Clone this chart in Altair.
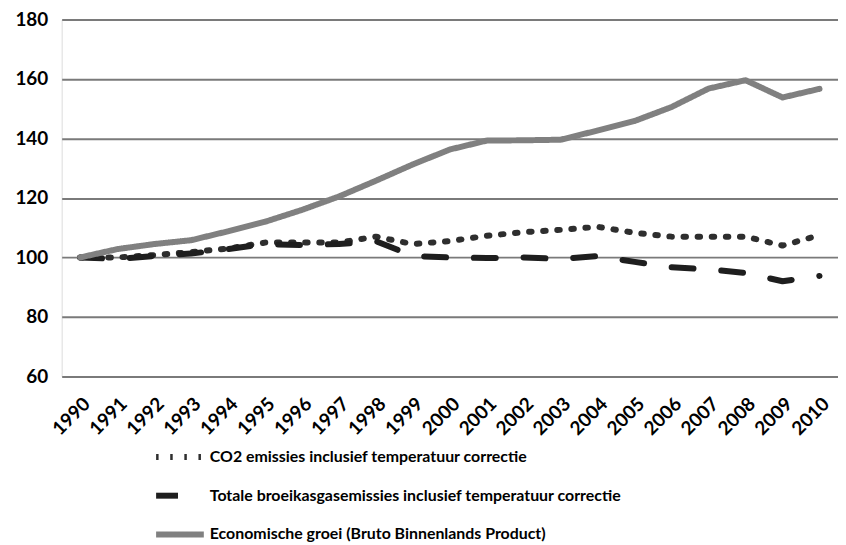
import altair as alt
import pandas as pd

years = [str(y) for y in range(1990, 2011)]

series_names = [
    "CO2 emissies inclusief temperatuur correctie",
    "Totale broeikasgasemissies inclusief temperatuur correctie",
    "Economische groei (Bruto Binnenlands Product)",
]

co2 = [100, 100, 100.8, 101.8, 103, 105, 105, 105, 107, 104.5, 105.5,
       107.3, 108.5, 109.3, 110.3, 108.3, 107, 107, 107, 104, 107.5]
totaal = [100, 99.5, 100.5, 101.3, 102.8, 104.5, 104.2, 104.5, 105.5, 100.5, 100,
          99.8, 100, 99.5, 100.5, 98.5, 96.7, 96, 94.8, 92, 93.8]
bbp = [100, 102.8, 104.5, 105.8, 108.8, 112, 116, 120.5, 125.8, 131.3, 136.3,
       139.3, 139.4, 139.6, 142.7, 145.9, 150.6, 156.8, 159.6, 153.8, 156.7]

y_ticks = [60, 80, 100, 120, 140, 160, 180]

rows = []
for name, vals in zip(series_names, [co2, totaal, bbp]):
    for y, v in zip(years, vals):
        rows.append({"jaar": y, "waarde": v, "reeks": name})
df = pd.DataFrame(rows)

FONT = "Lato, sans-serif"

chart = alt.Chart(df).mark_line(strokeWidth=6, strokeCap="round", strokeJoin="round").encode(
    x=alt.X("jaar:O", title=None, sort=years,
            scale=alt.Scale(type="point", padding=0.5),
            axis=alt.Axis(labelAngle=-45, domain=False, ticks=False, labelPadding=18,
                          labelFont=FONT, labelFontSize=19, labelFontWeight="bold",
                          labelColor="#000000", grid=False)),
    y=alt.Y("waarde:Q", title=None,
            scale=alt.Scale(domain=[60, 180], nice=False, zero=False),
            axis=alt.Axis(values=y_ticks, domain=False, ticks=False, labelPadding=14,
                          labelFont=FONT, labelFontSize=19, labelFontWeight="bold",
                          labelColor="#000000", grid=True, gridColor="#7a7a7a",
                          gridWidth=2)),
    color=alt.Color("reeks:N", sort=series_names,
                    scale=alt.Scale(domain=series_names,
                                    range=["#2e2e2e", "#1e1e1e", "#808080"]),
                    legend=alt.Legend(title=None, orient="none", direction="vertical",
                                      legendX=92, legendY=413,
                                      symbolType="stroke", symbolSize=2304,
                                      symbolStrokeWidth=6,
                                      labelFont=FONT, labelFontSize=16,
                                      labelFontWeight="bold", labelColor="#000000",
                                      labelLimit=600, rowPadding=-9, labelOffset=3)),
    strokeDash=alt.StrokeDash("reeks:N", sort=series_names,
                              scale=alt.Scale(domain=series_names,
                                              range=[[2.5, 11.7], [22, 28], [1, 0]]),
                              legend=None),
    order=alt.Order("jaar:O"),
).properties(
    width=781,
    height=359,
    autosize=alt.AutoSizeParams(type="none"),
    padding={"left": 54, "top": 10, "right": 0, "bottom": 172},
).configure_view(
    fill="#d9d9d9", stroke=None
).configure(background="#ffffff")

chart.save("out.html", embed_options={"renderer": "svg", "actions": False})
